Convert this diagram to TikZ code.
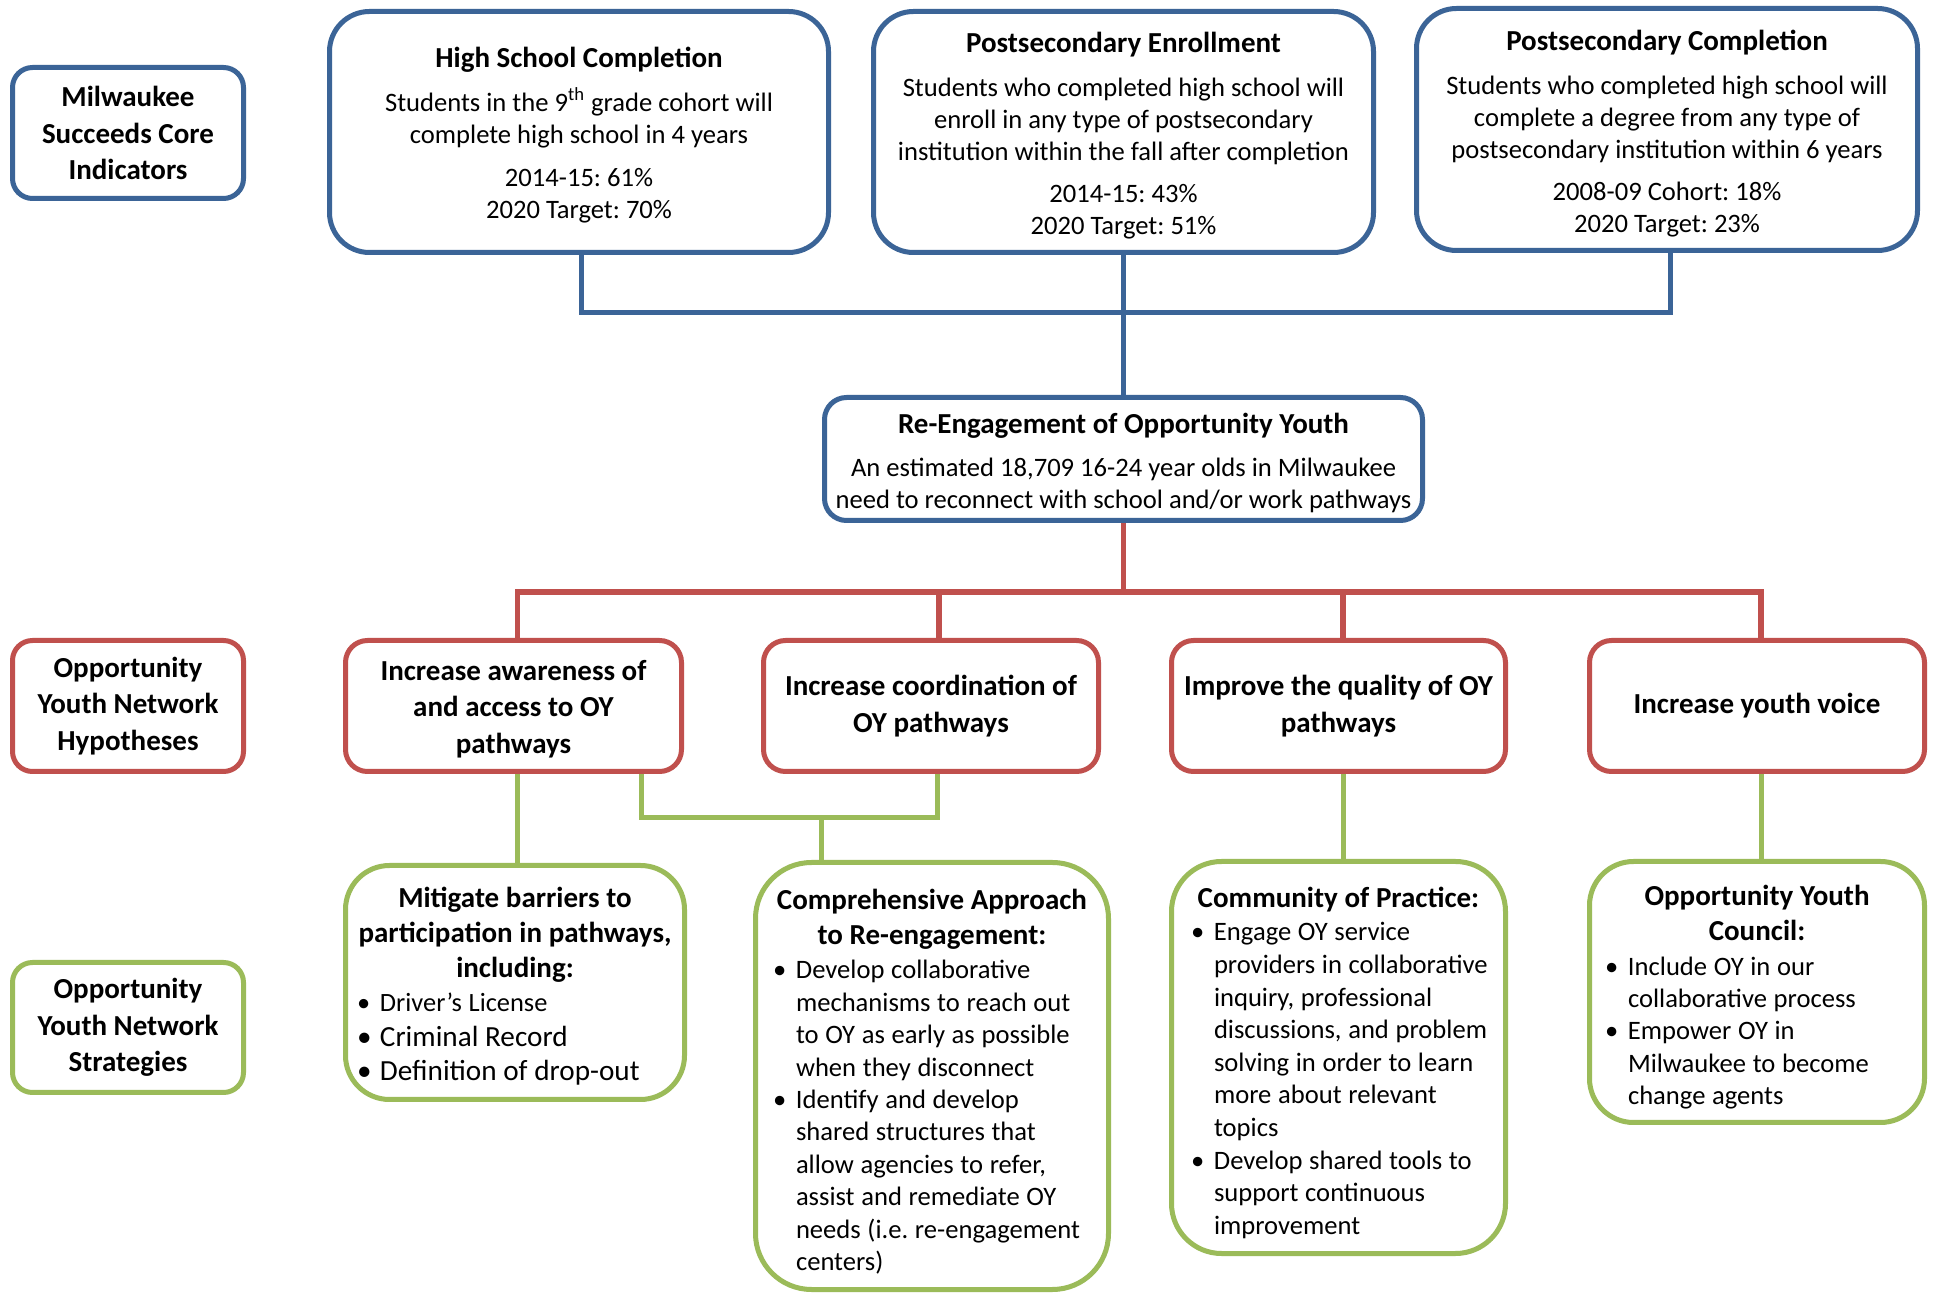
\documentclass[tikz,border=0pt]{standalone}
\usepackage{fontspec}
\setmainfont{Carlito}
\definecolor{oblue}{HTML}{3B6497}
\definecolor{ored}{HTML}{C0504D}
\definecolor{ogreen}{HTML}{9BBB59}
\frenchspacing
\newcommand\bodyfont{\fontsize{13.3}{16}\selectfont\frenchspacing}
\newcommand\ttlfont{\fontsize{14.5}{18.2}\selectfont\bfseries\frenchspacing}
\newcommand\bul{\par\hangindent=11.5pt\hangafter=1\noindent\makebox[11.5pt][l]{\textbullet}}
\newcommand\nl{\newline}
\newcommand\xtop[1]{\rule{0pt}{#1}}
\begin{document}
\begin{tikzpicture}[x=0.5pt,y=-0.5pt,
  frame/.style={draw=#1, line width=2.5pt, fill=white, inner sep=0pt, align=center},
  gframe/.style={draw=ogreen, line width=2.5pt, fill=white, inner sep=0pt},
  bluel/.style={draw=oblue, line width=2.5pt},
  redl/.style={draw=ored, line width=2.7pt},
  greenl/.style={draw=ogreen, line width=2.5pt},
]
\path[use as bounding box, fill=white] (0,0) rectangle (1935,1293);

% ---- side labels
\node[frame=oblue, rounded corners=10pt, minimum width=115.5pt, minimum height=65.5pt, font=\ttlfont] (mil) at (128,133) {Milwaukee\\Succeeds Core\\Indicators};
\node[frame=ored, rounded corners=10pt, minimum width=115.5pt, minimum height=65.5pt, font=\ttlfont] (hyp) at (128,706) {Opportunity\\Youth Network\\Hypotheses};
\node[frame=ogreen, rounded corners=10pt, minimum width=115.5pt, minimum height=65pt, font=\ttlfont] (str) at (128,1027.5) {Opportunity\\Youth Network\\Strategies};

% ---- core indicators
\node[frame=oblue, rounded corners=20pt, minimum width=249.5pt, minimum height=120.5pt, font=\bodyfont] (hs) at (579,132)
 {{\ttlfont\xtop{13.3pt}High School Completion}\\[6pt]Students in the 9\textsuperscript{th} grade cohort will\\complete high school in 4 years\\[5.7pt]2014-15: 61\%\\2020 Target: 70\%};
\node[frame=oblue, rounded corners=20pt, minimum width=250pt, minimum height=120.5pt, font=\bodyfont] (pe) at (1123.5,132)
 {{\ttlfont\xtop{14pt}Postsecondary Enrollment}\\[6pt]Students who completed high school will\\enroll in any type of postsecondary\\institution within the fall after completion\\[5pt]2014-15: 43\%\\2020 Target: 51\%};
\node[frame=oblue, rounded corners=20pt, minimum width=250.5pt, minimum height=121pt, font=\bodyfont] (pc) at (1667,129.5)
 {{\ttlfont\xtop{14pt}Postsecondary Completion}\\[6pt]Students who completed high school will\\complete a degree from any type of\\postsecondary institution within 6 years\\[5pt]2008-09 Cohort: 18\%\\2020 Target: 23\%};

\node[frame=oblue, rounded corners=11pt, minimum width=299pt, minimum height=61.5pt, font=\bodyfont] (re) at (1123.5,459)
 {{\ttlfont\xtop{14.2pt}Re-Engagement of Opportunity Youth}\\[5.7pt]An estimated 18,709 16-24 year olds in Milwaukee\\need to reconnect with school and/or work pathways};

% ---- hypotheses
\node[frame=ored, rounded corners=11pt, minimum width=168pt, minimum height=65.5pt, font=\ttlfont] (aw) at (513.5,706) {\xtop{13pt}Increase awareness of\\and access to OY\\pathways};
\node[frame=ored, rounded corners=11pt, minimum width=167.5pt, minimum height=65.5pt, font=\ttlfont] (co) at (931,706) {Increase coordination of\\OY pathways};
\node[frame=ored, rounded corners=11pt, minimum width=167pt, minimum height=65.5pt, font=\ttlfont] (qu) at (1338.5,706) {Improve the quality of OY\\pathways};
\node[frame=ored, rounded corners=11pt, minimum width=167.5pt, minimum height=65.5pt, font=\ttlfont] (yv) at (1757,706) {Increase youth voice};

% ---- strategies
\node[gframe, rounded corners=22pt, minimum width=169.5pt, minimum height=117pt, text width=158pt] (mi) at (515,982.5)
 {\parindent=0pt\parskip=0pt\centering\ttlfont\fontsize{14.5}{17.3}\selectfont\xtop{14.2pt}Mitigate barriers to\\participation in pathways,\\including:\par
  \raggedright\mdseries\fontsize{13.2}{17.3}\selectfont
  \bul\mbox{Driver’s License}\fontsize{14.6}{17.3}\selectfont
  \bul\mbox{Criminal Record}
  \bul\mbox{Definition of drop-out}\par};

\node[gframe, rounded corners=28pt, minimum width=176.5pt, minimum height=213.5pt, text width=159pt] (cm) at (932,1076)
 {\parindent=0pt\parskip=0pt\centering\ttlfont\fontsize{14.5}{17.3}\selectfont\xtop{16pt}Comprehensive Approach\\to Re-engagement:\par\vspace{1.1pt}
  \raggedright\mdseries\fontsize{13.3}{16.2}\selectfont
  \bul\mbox{Develop collaborative}\nl\mbox{mechanisms to reach out}\nl\mbox{to OY as early as possible}\nl\mbox{when they disconnect}
  \bul\mbox{Identify and develop}\nl\mbox{shared structures that}\nl\mbox{allow agencies to refer,}\nl\mbox{assist and remediate OY}\nl\mbox{needs (i.e. re-engagement}\nl\mbox{centers)}\par};

\node[gframe, rounded corners=25pt, minimum width=167pt, minimum height=196pt, text width=147.5pt] (cp) at (1338.5,1057.5)
 {\parindent=0pt\parskip=0pt\centering\ttlfont\fontsize{14.5}{17.3}\selectfont\xtop{15.5pt}Community of Practice:\par\vspace{0.4pt}
  \raggedright\mdseries\fontsize{13.3}{16.3}\selectfont
  \bul\mbox{Engage OY service}\nl\mbox{providers in collaborative}\nl\mbox{inquiry, professional}\nl\mbox{discussions, and problem}\nl\mbox{solving in order to learn}\nl\mbox{more about relevant}\nl\mbox{topics}
  \bul\mbox{Develop shared tools to}\nl\mbox{support continuous}\nl\mbox{improvement}\par};

\node[gframe, rounded corners=22pt, minimum width=167.5pt, minimum height=130.5pt, text width=152pt] (oc) at (1757,992)
 {\parindent=0pt\parskip=0pt\centering\ttlfont\fontsize{14.5}{17.3}\selectfont\xtop{15.5pt}Opportunity Youth\\Council:\par\vspace{1.1pt}
  \raggedright\mdseries\fontsize{13.3}{16.2}\selectfont
  \bul\mbox{Include OY in our}\nl\mbox{collaborative process}
  \bul\mbox{Empower OY in}\nl\mbox{Milwaukee to become}\nl\mbox{change agents}\par};

% ---- connectors
\coordinate (bb) at (1124,313);
\draw[bluel] ([xshift=1pt]hs.south) |- (bb) -| ([xshift=1.5pt]pc.south);
\draw[bluel] (pe.south) -- (re.north);

\coordinate (rb) at (1125,592);
\draw[redl] (re.south) -- (re.south |- rb);
\draw[redl] ([xshift=2pt]aw.north) |- (rb) -| ([xshift=2pt]yv.north);
\draw[redl] ([xshift=4pt]co.north) -- ([xshift=4pt]co.north |- rb);
\draw[redl] ([xshift=2.3pt]qu.north) -- ([xshift=2.3pt]qu.north |- rb);

\coordinate (gb) at (821,818);
\draw[greenl] ([xshift=2pt]aw.south) -- ([xshift=2pt]aw.south |- mi.north);
\draw[greenl] ([xshift=64pt]aw.south) |- (gb) -| ([xshift=3pt]co.south);
\draw[greenl] (gb) -- (gb |- cm.north);
\draw[greenl] ([xshift=2.3pt]qu.south) -- ([xshift=2.3pt]qu.south |- cp.north);
\draw[greenl] ([xshift=2pt]yv.south) -- ([xshift=2pt]yv.south |- oc.north);
\end{tikzpicture}
\end{document}
